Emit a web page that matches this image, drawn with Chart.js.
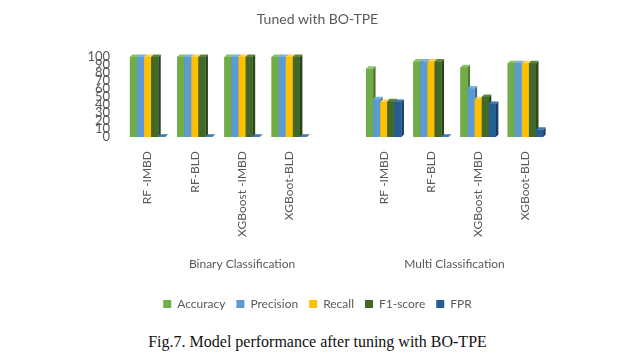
<!DOCTYPE html>
<html>
<head>
<meta charset="utf-8">
<script src="https://cdn.jsdelivr.net/npm/chart.js@4.4.0/dist/chart.umd.min.js"></script>
<style>
  body { margin: 0; background: #fff; }
  #wrap { position: relative; width: 635px; height: 322px; }
  #caption {
    position: absolute; left: 0; top: 333px; width: 635px; text-align: center;
    font-family: "Liberation Serif", "DejaVu Serif", serif; font-size: 16px; color: #111;
  }
</style>
</head>
<body>
<div id="wrap"><canvas id="myChart"></canvas></div>
<div id="caption">Fig.7. Model performance after tuning with BO-TPE</div>
<script>
// categories (the blank slot separates the two groups, like in the excel sheet)
const models = ["RF -IMBD", "RF-BLD", "XGBoost -IMBD", "XGBoot-BLD", "", "RF -IMBD", "RF-BLD", "XGBoost -IMBD", "XGBoot-BLD"];
const groupNames = ["Binary Classification", "Multi Classification"];
const groupSlots = [[0, 4], [5, 8]];
const yTicks = [0, 10, 20, 30, 40, 50, 60, 70, 80, 90, 100];

// series values
const accuracy = [99.8, 99.8, 99.8, 99.8, null, 85, 94, 87, 92];
const precision = [99.8, 99.8, 99.8, 99.8, null, 47, 94, 60.5, 92];
const recall = [99.8, 99.8, 99.8, 99.8, null, 43.5, 94, 47, 92];
const f1score = [99.8, 99.8, 99.8, 99.8, null, 44.5, 94, 50, 92];
const fpr = [0.4, 0.4, 0.4, 0.4, null, 43.5, 0.4, 41, 9];

const seriesColors = ["#70AD47", "#5B9BD5", "#FFC000", "#43682B", "#255E91"];
const sideColors = ["#4E7A31", "#3F6E99", "#B38700", "#2C461C", "#183F62"];
const topColors = ["#8CC267", "#7DB2E0", "#FFD34D", "#5A8640", "#3D77AB"];

const textGray = "#595959";
const fontName = "Lato, 'Open Sans', sans-serif";

// fake 3d look: draw top + side faces, then redraw front so next bar covers it
const bars3d = {
  id: "bars3d",
  afterDatasetsDraw(chart) {
    const ctx = chart.ctx;
    const d = 2.5;
    ctx.save();
    chart.data.datasets.forEach((ds, i) => {
      const meta = chart.getDatasetMeta(i);
      meta.data.forEach((bar, j) => {
        if (ds.data[j] === null) return;
        const left = bar.x - bar.width / 2;
        const right = bar.x + bar.width / 2;
        const top = bar.y;
        const base = bar.base;
        ctx.fillStyle = sideColors[i];
        ctx.beginPath();
        ctx.moveTo(right, top);
        ctx.lineTo(right + d, top - d);
        ctx.lineTo(right + d, base - d);
        ctx.lineTo(right, base);
        ctx.closePath();
        ctx.fill();
        ctx.fillStyle = topColors[i];
        ctx.beginPath();
        ctx.moveTo(left, top);
        ctx.lineTo(left + d, top - d);
        ctx.lineTo(right + d, top - d);
        ctx.lineTo(right, top);
        ctx.closePath();
        ctx.fill();
        ctx.fillStyle = seriesColors[i];
        ctx.fillRect(left, top, right - left, base - top);
      });
    });
    ctx.restore();
  },
};

// group names under the rotated model names
const groupLabels = {
  id: "groupLabels",
  afterDraw(chart) {
    const ctx = chart.ctx;
    const x = chart.scales.x;
    ctx.save();
    ctx.font = "12px " + fontName;
    ctx.fillStyle = textGray;
    ctx.textAlign = "center";
    ctx.textBaseline = "middle";
    groupNames.forEach((name, k) => {
      const a = x.getPixelForValue(groupSlots[k][0]);
      const b = x.getPixelForValue(groupSlots[k][1]);
      ctx.fillText(name, (a + b) / 2, 264);
    });
    ctx.restore();
  },
};

const labelNames = ["Accuracy", "Precision", "Recall", "F1-score", "FPR"];
const seriesData = [accuracy, precision, recall, f1score, fpr];

new Chart(document.getElementById("myChart"), {
  type: "bar",
  data: {
    labels: models,
    datasets: labelNames.map((name, i) => ({
      label: name,
      data: seriesData[i],
      backgroundColor: seriesColors[i],
      borderWidth: 0,
    })),
  },
  options: {
    responsive: true,
    maintainAspectRatio: false,
    animation: false,
    layout: { padding: { left: 0, right: 0, top: 0, bottom: 2 } },
    datasets: { bar: { categoryPercentage: 0.75, barPercentage: 1 } },
    plugins: {
      title: {
        display: true,
        text: "Tuned with BO-TPE",
        color: textGray,
        font: { family: fontName, size: 14, weight: "normal" },
        padding: { top: 11, bottom: 29 },
      },
      legend: {
        position: "bottom",
        labels: {
          color: textGray,
          font: { family: fontName, size: 12 },
          boxWidth: 8,
          boxHeight: 8,
          padding: 11,
        },
      },
      tooltip: { enabled: false },
    },
    scales: {
      x: {
        grid: { display: false, drawTicks: false },
        border: { display: false },
        ticks: {
          color: textGray,
          font: { family: fontName, size: 12 },
          minRotation: 90,
          maxRotation: 90,
          padding: 14,
          autoSkip: false,
        },
        afterFit(scale) { scale.height = 150; },
      },
      y: {
        min: 0,
        max: 100,
        grid: { display: false, drawTicks: false },
        border: { display: false },
        afterBuildTicks(scale) { scale.ticks = yTicks.map(v => ({ value: v })); },
        ticks: {
          color: textGray,
          font: { family: fontName, size: 13 },
          padding: 14,
          autoSkip: false,
        },
        afterFit(scale) { scale.width = 124; },
      },
      // empty right axis, only keeps the plot area narrower so title/legend stay centered
      yRight: {
        position: "right",
        min: 0,
        max: 100,
        grid: { display: false, drawTicks: false },
        border: { display: false },
        ticks: { display: false },
        afterFit(scale) { scale.width = 86; },
      },
    },
  },
  plugins: [bars3d, groupLabels],
});
</script>
</body>
</html>
